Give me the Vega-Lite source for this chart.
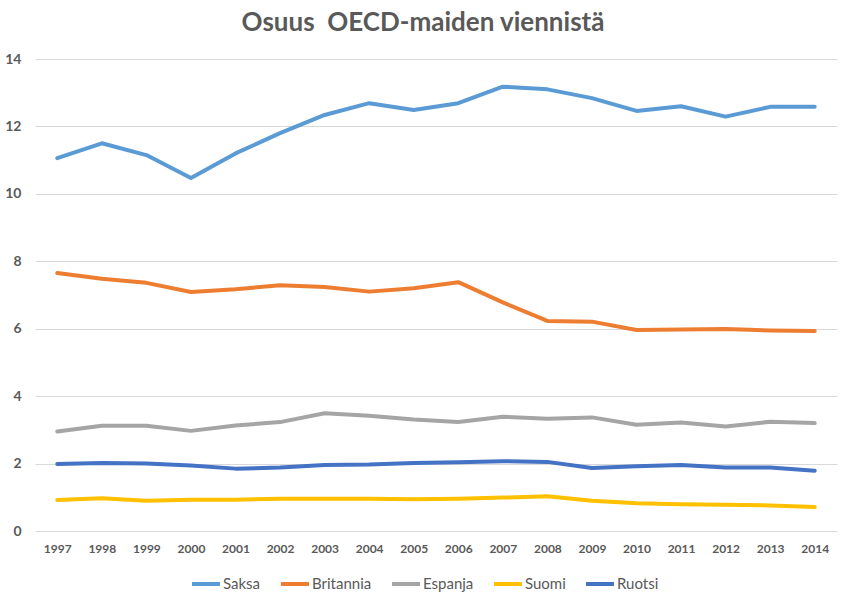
{
  "$schema": "https://vega.github.io/schema/vega-lite/v6.json",
  "title": {
    "text": "Osuus\u00a0 OECD-maiden viennistä",
    "font": "Lato",
    "fontSize": 26,
    "fontWeight": "bold",
    "color": "#595959",
    "anchor": "middle",
    "dx": -13,
    "offset": 16
  },
  "width": 802,
  "height": 472,
  "autosize": "none",
  "padding": {"left": 35, "top": 59, "right": 11, "bottom": 69},
  "background": "white",
  "data": {
    "values": [
      {"vuosi": "1997", "maa": "Saksa", "osuus": 11.06},
      {"vuosi": "1998", "maa": "Saksa", "osuus": 11.5},
      {"vuosi": "1999", "maa": "Saksa", "osuus": 11.15},
      {"vuosi": "2000", "maa": "Saksa", "osuus": 10.47},
      {"vuosi": "2001", "maa": "Saksa", "osuus": 11.2},
      {"vuosi": "2002", "maa": "Saksa", "osuus": 11.8},
      {"vuosi": "2003", "maa": "Saksa", "osuus": 12.34},
      {"vuosi": "2004", "maa": "Saksa", "osuus": 12.69},
      {"vuosi": "2005", "maa": "Saksa", "osuus": 12.49},
      {"vuosi": "2006", "maa": "Saksa", "osuus": 12.69},
      {"vuosi": "2007", "maa": "Saksa", "osuus": 13.18},
      {"vuosi": "2008", "maa": "Saksa", "osuus": 13.1},
      {"vuosi": "2009", "maa": "Saksa", "osuus": 12.84},
      {"vuosi": "2010", "maa": "Saksa", "osuus": 12.46},
      {"vuosi": "2011", "maa": "Saksa", "osuus": 12.6},
      {"vuosi": "2012", "maa": "Saksa", "osuus": 12.29},
      {"vuosi": "2013", "maa": "Saksa", "osuus": 12.58},
      {"vuosi": "2014", "maa": "Saksa", "osuus": 12.58},
      {"vuosi": "1997", "maa": "Britannia", "osuus": 7.65},
      {"vuosi": "1998", "maa": "Britannia", "osuus": 7.48},
      {"vuosi": "1999", "maa": "Britannia", "osuus": 7.36},
      {"vuosi": "2000", "maa": "Britannia", "osuus": 7.09},
      {"vuosi": "2001", "maa": "Britannia", "osuus": 7.17},
      {"vuosi": "2002", "maa": "Britannia", "osuus": 7.29},
      {"vuosi": "2003", "maa": "Britannia", "osuus": 7.24},
      {"vuosi": "2004", "maa": "Britannia", "osuus": 7.1},
      {"vuosi": "2005", "maa": "Britannia", "osuus": 7.2},
      {"vuosi": "2006", "maa": "Britannia", "osuus": 7.38},
      {"vuosi": "2007", "maa": "Britannia", "osuus": 6.78},
      {"vuosi": "2008", "maa": "Britannia", "osuus": 6.23},
      {"vuosi": "2009", "maa": "Britannia", "osuus": 6.21},
      {"vuosi": "2010", "maa": "Britannia", "osuus": 5.96},
      {"vuosi": "2011", "maa": "Britannia", "osuus": 5.98},
      {"vuosi": "2012", "maa": "Britannia", "osuus": 5.99},
      {"vuosi": "2013", "maa": "Britannia", "osuus": 5.95},
      {"vuosi": "2014", "maa": "Britannia", "osuus": 5.93},
      {"vuosi": "1997", "maa": "Espanja", "osuus": 2.95},
      {"vuosi": "1998", "maa": "Espanja", "osuus": 3.12},
      {"vuosi": "1999", "maa": "Espanja", "osuus": 3.12},
      {"vuosi": "2000", "maa": "Espanja", "osuus": 2.97},
      {"vuosi": "2001", "maa": "Espanja", "osuus": 3.13},
      {"vuosi": "2002", "maa": "Espanja", "osuus": 3.23},
      {"vuosi": "2003", "maa": "Espanja", "osuus": 3.49},
      {"vuosi": "2004", "maa": "Espanja", "osuus": 3.42},
      {"vuosi": "2005", "maa": "Espanja", "osuus": 3.31},
      {"vuosi": "2006", "maa": "Espanja", "osuus": 3.23},
      {"vuosi": "2007", "maa": "Espanja", "osuus": 3.39},
      {"vuosi": "2008", "maa": "Espanja", "osuus": 3.33},
      {"vuosi": "2009", "maa": "Espanja", "osuus": 3.37},
      {"vuosi": "2010", "maa": "Espanja", "osuus": 3.15},
      {"vuosi": "2011", "maa": "Espanja", "osuus": 3.22},
      {"vuosi": "2012", "maa": "Espanja", "osuus": 3.1},
      {"vuosi": "2013", "maa": "Espanja", "osuus": 3.24},
      {"vuosi": "2014", "maa": "Espanja", "osuus": 3.2},
      {"vuosi": "1997", "maa": "Suomi", "osuus": 0.92},
      {"vuosi": "1998", "maa": "Suomi", "osuus": 0.97},
      {"vuosi": "1999", "maa": "Suomi", "osuus": 0.9},
      {"vuosi": "2000", "maa": "Suomi", "osuus": 0.93},
      {"vuosi": "2001", "maa": "Suomi", "osuus": 0.93},
      {"vuosi": "2002", "maa": "Suomi", "osuus": 0.96},
      {"vuosi": "2003", "maa": "Suomi", "osuus": 0.96},
      {"vuosi": "2004", "maa": "Suomi", "osuus": 0.96},
      {"vuosi": "2005", "maa": "Suomi", "osuus": 0.94},
      {"vuosi": "2006", "maa": "Suomi", "osuus": 0.96},
      {"vuosi": "2007", "maa": "Suomi", "osuus": 0.99},
      {"vuosi": "2008", "maa": "Suomi", "osuus": 1.03},
      {"vuosi": "2009", "maa": "Suomi", "osuus": 0.9},
      {"vuosi": "2010", "maa": "Suomi", "osuus": 0.82},
      {"vuosi": "2011", "maa": "Suomi", "osuus": 0.79},
      {"vuosi": "2012", "maa": "Suomi", "osuus": 0.78},
      {"vuosi": "2013", "maa": "Suomi", "osuus": 0.76},
      {"vuosi": "2014", "maa": "Suomi", "osuus": 0.71},
      {"vuosi": "1997", "maa": "Ruotsi", "osuus": 1.99},
      {"vuosi": "1998", "maa": "Ruotsi", "osuus": 2.02},
      {"vuosi": "1999", "maa": "Ruotsi", "osuus": 2.0},
      {"vuosi": "2000", "maa": "Ruotsi", "osuus": 1.94},
      {"vuosi": "2001", "maa": "Ruotsi", "osuus": 1.85},
      {"vuosi": "2002", "maa": "Ruotsi", "osuus": 1.88},
      {"vuosi": "2003", "maa": "Ruotsi", "osuus": 1.96},
      {"vuosi": "2004", "maa": "Ruotsi", "osuus": 1.97},
      {"vuosi": "2005", "maa": "Ruotsi", "osuus": 2.02},
      {"vuosi": "2006", "maa": "Ruotsi", "osuus": 2.04},
      {"vuosi": "2007", "maa": "Ruotsi", "osuus": 2.07},
      {"vuosi": "2008", "maa": "Ruotsi", "osuus": 2.05},
      {"vuosi": "2009", "maa": "Ruotsi", "osuus": 1.87},
      {"vuosi": "2010", "maa": "Ruotsi", "osuus": 1.92},
      {"vuosi": "2011", "maa": "Ruotsi", "osuus": 1.96},
      {"vuosi": "2012", "maa": "Ruotsi", "osuus": 1.88},
      {"vuosi": "2013", "maa": "Ruotsi", "osuus": 1.88},
      {"vuosi": "2014", "maa": "Ruotsi", "osuus": 1.79}
    ]
  },
  "mark": {
    "type": "line",
    "strokeWidth": 4,
    "strokeCap": "round",
    "strokeJoin": "round"
  },
  "encoding": {
    "x": {
      "field": "vuosi",
      "type": "ordinal",
      "scale": {"type": "point", "padding": 0.5},
      "axis": {
        "title": null,
        "labelAngle": 0,
        "labelFontSize": 12,
        "labelFontWeight": "bold",
        "labelPadding": 12,
        "domain": false,
        "ticks": false,
        "grid": false
      }
    },
    "y": {
      "field": "osuus",
      "type": "quantitative",
      "scale": {"domain": [0, 14], "nice": false},
      "axis": {
        "title": null,
        "values": [0, 2, 4, 6, 8, 10, 12, 14],
        "labelFontSize": 14,
        "labelFontWeight": "bold",
        "labelPadding": 14,
        "domain": false,
        "ticks": false,
        "gridColor": "#d9d9d9",
        "gridWidth": 1
      }
    },
    "color": {
      "field": "maa",
      "type": "nominal",
      "sort": null,
      "scale": {
        "domain": ["Saksa", "Britannia", "Espanja", "Suomi", "Ruotsi"],
        "range": ["#5b9bd5", "#ed7d31", "#a5a5a5", "#ffc000", "#4472c4"]
      },
      "legend": {
        "title": null,
        "orient": "none",
        "legendX": 155,
        "legendY": 509,
        "direction": "horizontal",
        "symbolType": "stroke",
        "symbolStrokeWidth": 4,
        "symbolSize": 784,
        "labelFontSize": 15,
        "labelOffset": 1,
        "columnPadding": 12
      }
    }
  },
  "config": {
    "font": "Lato",
    "axis": {"labelFont": "Lato", "labelColor": "#595959"},
    "legend": {"labelFont": "Lato", "labelColor": "#595959"},
    "view": {"stroke": null}
  }
}
